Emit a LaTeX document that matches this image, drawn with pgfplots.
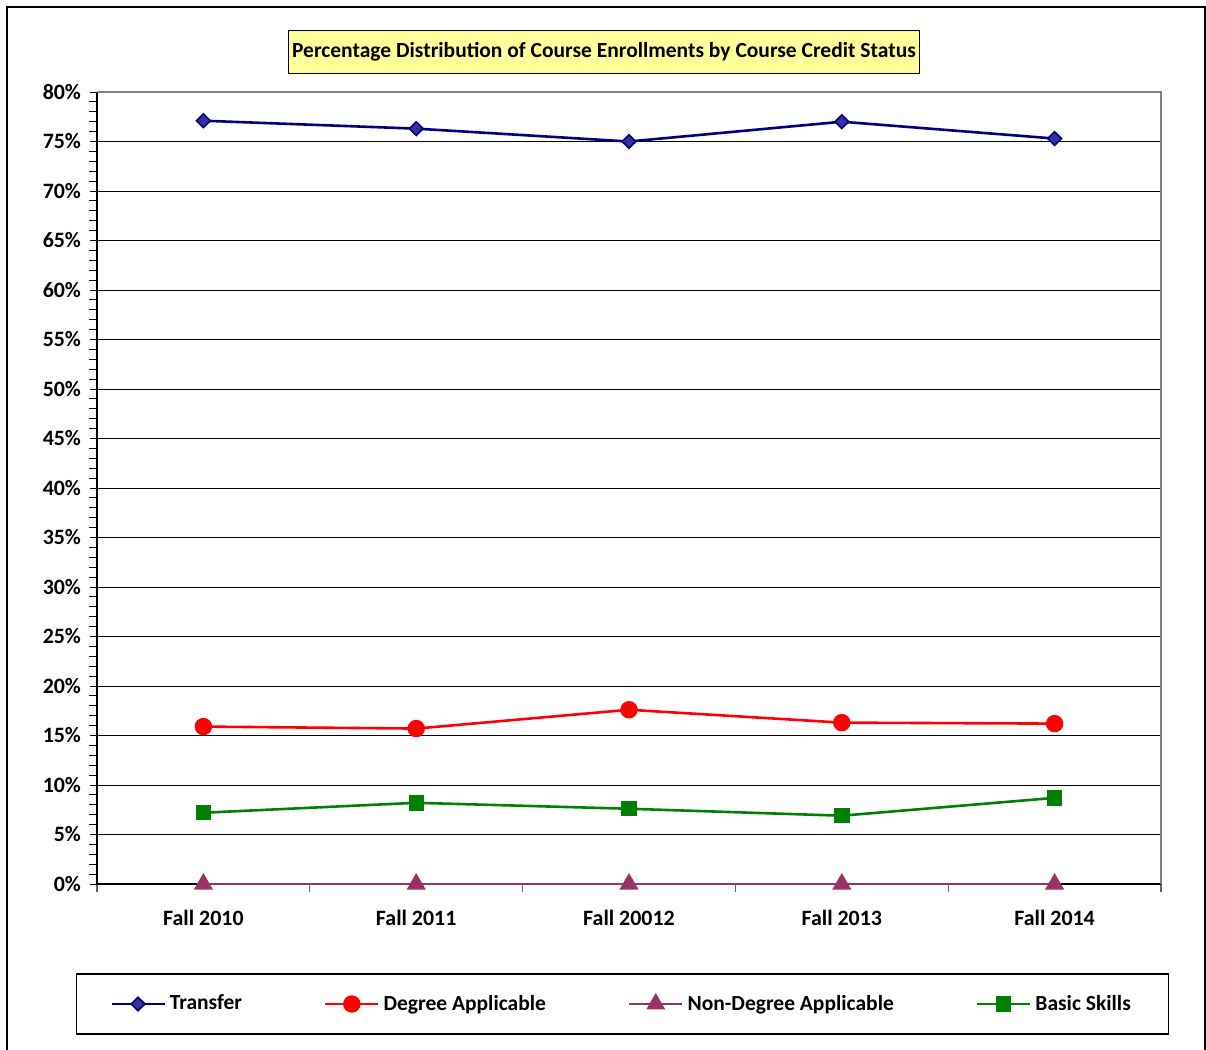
\documentclass[border=0pt]{standalone}
\usepackage{fontspec}
\setmainfont{Carlito}
\usepackage{pgfplots}
\pgfplotsset{compat=1.18}
\definecolor{navy}{HTML}{000080}
\definecolor{navyfill}{HTML}{333399}
\definecolor{plum}{HTML}{993366}
\definecolor{dgreen}{HTML}{008000}
\definecolor{titleyellow}{HTML}{FFFF99}
\begin{document}
\begin{tikzpicture}
\useasboundingbox (0,0) rectangle (603bp,525bp);
% outer frame
\draw[line width=1.2bp,black] (3.5bp,0bp) -- (3.5bp,521.5bp) -- (602.5bp,521.5bp) -- (602.5bp,0bp);
\begin{axis}[
  at={(48.5bp,83bp)}, anchor=south west,
  scale only axis, width=532bp, height=396bp,
  xmin=-0.5, xmax=4.5, ymin=0, ymax=80,
  axis lines*=left,
  axis line style={black, line width=0.6bp},
  clip=false,
  xtick={0,1,2,3,4},
  xticklabels={Fall 2010,Fall 2011,Fall 20012,Fall 2013,Fall 2014},
  minor xtick={-0.5,0.5,1.5,2.5,3.5,4.5},
  major x tick style={draw=none},
  minor x tick style={gray!80!black, line width=0.6bp},
  ytick={0,5,...,80},
  minor y tick num=4,
  tick align=outside,
  major tick length=3.5bp,
  minor tick length=4bp,
  minor y tick style={black, line width=0.5bp},
  major y tick style={black, line width=0.5bp},
  yticklabel={\pgfmathprintnumber{\tick}\%},
  /pgf/number format/assume math mode=true,
  tick label style={font=\fontsize{11}{13}\selectfont\bfseries},
  xticklabel style={yshift=-6bp},
  yticklabel style={xshift=-1bp},
  ymajorgrids, grid style={black, line width=0.5bp},
  legend columns=4,
  legend style={at={(0.4939,-0.1515)}, anchor=center, draw=black, line width=0.6bp,
    inner xsep=17bp, inner ysep=8.5bp,
    font=\fontsize{10.8}{12}\selectfont\bfseries,
    /tikz/every even column/.append style={column sep=39bp},
    /tikz/every odd column/.append style={column sep=0bp}},
  legend cell align=left,
  legend image code/.code={\draw[mark repeat=2,mark phase=2,#1] plot coordinates {(0bp,0bp) (13.25bp,0bp) (26.5bp,0bp)};},
]
\addplot[navy, line width=1.3bp, mark=diamond*, mark size=3.4bp, mark options={fill=navyfill, draw=navy, line width=0.8bp, xscale=1.35}]
  coordinates {(0,77.1) (1,76.3) (2,75.0) (3,77.0) (4,75.3)};
\addlegendentry{Transfer}
\addplot[red, line width=1.3bp, mark=*, mark size=3.7bp, mark options={fill=red, draw=red}]
  coordinates {(0,15.9) (1,15.7) (2,17.6) (3,16.3) (4,16.2)};
\addlegendentry{Degree Applicable}
\addplot[plum, line width=1.3bp, mark=triangle*, mark size=4.2bp, mark options={fill=plum, draw=plum}]
  coordinates {(0,0) (1,0) (2,0) (3,0) (4,0)};
\addlegendentry{Non-Degree Applicable}
\addplot[dgreen, line width=1.3bp, mark=square*, mark size=3.2bp, mark options={fill=dgreen, draw=dgreen}]
  coordinates {(0,7.2) (1,8.2) (2,7.6) (3,6.9) (4,8.7)};
\addlegendentry{Basic Skills}
\draw[gray, line width=0.6bp] (rel axis cs:0,1) -- (rel axis cs:1,1) -- (rel axis cs:1,0);
\end{axis}
\node[draw=black, fill=titleyellow, line width=0.6bp, inner xsep=2bp, inner ysep=6bp, font=\fontsize{10.8}{12}\selectfont\bfseries] at (302bp,499bp) {Percentage Distribution of Course Enrollments by Course Credit Status};
\end{tikzpicture}
\end{document}
